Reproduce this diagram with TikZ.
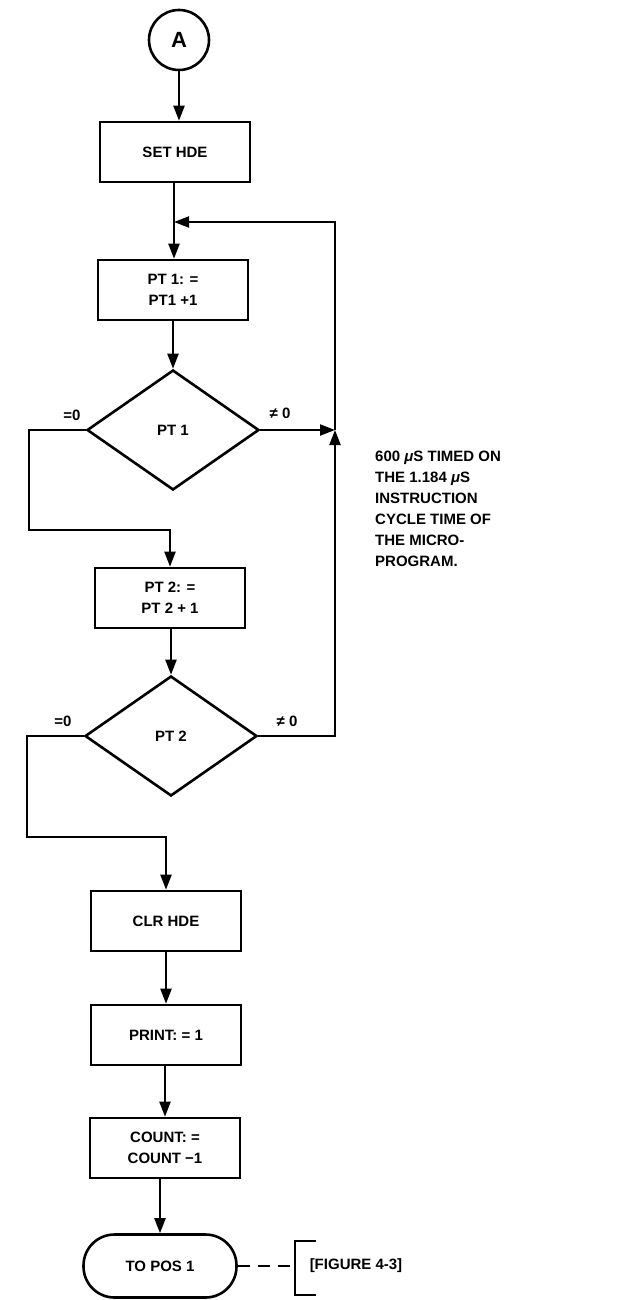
\documentclass[tikz,border=0pt]{standalone}
\usepackage{fontspec}
\setmainfont{Liberation Sans}
\usetikzlibrary{arrows.meta,shapes.geometric}

\begin{document}
\begin{tikzpicture}[x=1pt,y=-1pt,font=\fontsize{15}{21}\selectfont\bfseries,
  connector/.style={circle,draw,line width=2.6pt,minimum size=60pt,inner sep=0pt,font=\fontsize{22}{22}\selectfont\bfseries},
  process/.style={rectangle,draw,line width=2.6pt,minimum width=150pt,minimum height=60pt,align=center,inner sep=0pt},
  decision/.style={diamond,draw,line width=2.6pt,minimum width=172pt,minimum height=120pt,aspect=1.43,inner sep=0pt},
  terminal/.style={rectangle,rounded corners=31pt,draw,line width=2.6pt,minimum width=153pt,minimum height=63pt},
  flow/.style={line width=2.2pt,-{Triangle[length=15pt,width=11pt]}},
  link/.style={line width=2.2pt},
  tag/.style={inner sep=0pt}]
\useasboundingbox (0,0) rectangle (621,1300);
\coordinate (A) at (179,40);
\coordinate (S) at (175,152);
\coordinate (P1) at (173,290);
\coordinate (D1) at (173,430);
\coordinate (P2) at (170,598);
\coordinate (D2) at (171,736);
\coordinate (C) at (166,921);
\coordinate (PR) at (166,1035);
\coordinate (CT) at (165,1148);
\coordinate (T) at (160,1266);
\node[connector] (start) at (A) {A};
\node[process] (sethde) at (S) {SET HDE};
\node[process] (pt1box) at (P1) {PT 1: =\\PT1 +1};
\node[decision] (pt1dec) at (D1) {PT 1};
\node[process] (pt2box) at (P2) {PT 2: =\\PT 2 + 1};
\node[decision] (pt2dec) at (D2) {PT 2};
\node[process] (clrhde) at (C) {CLR HDE};
\node[process] (print) at (PR) {PRINT: = 1};
\node[process] (count) at (CT) {COUNT: =\\COUNT −1};
\node[terminal] (topos) at (T) {TO POS 1};
\coordinate (join) at (174,222);
\coordinate (loopTop) at (335,222);
\coordinate (loopMid) at (335,430);
\coordinate (loopBot) at (335,736);
\coordinate (bend1) at (29,530);
\coordinate (bend2) at (27,837);
\coordinate (brk) at (295,1266);
\draw[flow] (start) -- (start |- sethde.north);
\draw[link] (sethde.south -| join) -- (join);
\draw[flow] (join) -- (join |- pt1box.north);
\draw[flow] (pt1box.south -| pt1dec) -- (pt1dec.north);
\draw[flow] (pt1dec.east) -- (loopMid);
\draw[flow] (pt2dec.east) -- (loopBot) -- (loopMid);
\draw[flow] (loopMid) -- (loopTop) -- (join);
\draw[flow] (pt1dec.west) -| (bend1) -| (pt2box.north);
\draw[flow] (pt2box.south -| pt2dec) -- (pt2dec.north);
\draw[flow] (pt2dec.west) -| (bend2) -| (clrhde.north);
\draw[flow] (clrhde) -- (print);
\draw[flow] (print.south -| count) -- (count.north);
\draw[flow] (count.south -| topos) -- (topos.north);
\draw[link,dash pattern=on 12pt off 8pt] (topos.east) -- (brk);
\draw[link] (316,1241) -- (295,1241) -- (brk) -- (295,1295) -- (316,1295);
\node[tag] (fig) at (356,1266) {[FIGURE 4-3]};
\node[tag] (eq1) at (72,415) {=0};
\node[tag] (ne1) at (280,413) {≠ 0};
\node[tag] (eq2) at (63,721) {=0};
\node[tag] (ne2) at (287,721) {≠ 0};
\node[tag,anchor=north west,align=left] (note) at (375,451) {600 \textit{μ}S TIMED ON\\THE 1.184 \textit{μ}S\\INSTRUCTION\\CYCLE TIME OF\\THE MICRO-\\PROGRAM.};
\end{tikzpicture}
\end{document}
